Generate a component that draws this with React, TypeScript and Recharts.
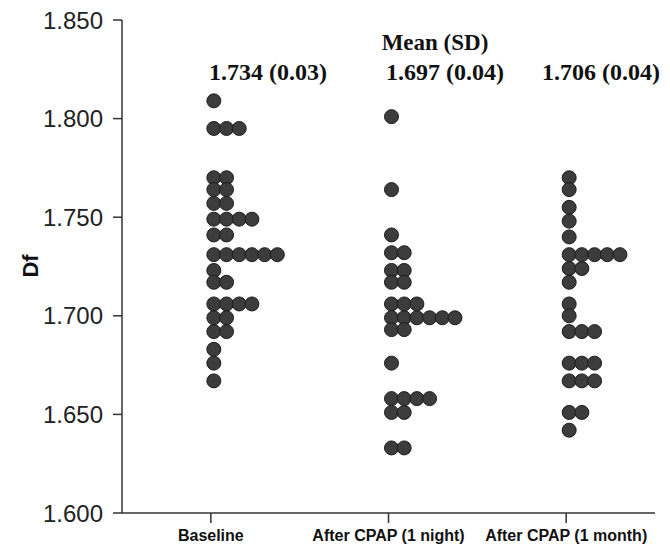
import React from 'react';
import { ScatterChart, Scatter, XAxis, YAxis, Customized } from 'recharts';

const categories = ['Baseline', 'After CPAP (1 night)', 'After CPAP (1 month)'];

const baselineLevels = [1.809, 1.795, 1.770, 1.764, 1.757, 1.749, 1.741, 1.731, 1.723, 1.717, 1.706, 1.699, 1.692, 1.683, 1.676, 1.667];
const baselineCounts = [1, 3, 2, 2, 2, 4, 2, 6, 1, 2, 4, 2, 2, 1, 1, 1];

const nightLevels = [1.801, 1.764, 1.741, 1.732, 1.723, 1.717, 1.706, 1.699, 1.693, 1.676, 1.658, 1.651, 1.633];
const nightCounts = [1, 1, 1, 2, 2, 2, 3, 6, 2, 1, 4, 2, 2];

const monthLevels = [1.770, 1.764, 1.755, 1.748, 1.740, 1.731, 1.724, 1.717, 1.706, 1.700, 1.692, 1.676, 1.667, 1.651, 1.642];
const monthCounts = [1, 1, 1, 1, 1, 5, 2, 1, 1, 1, 3, 3, 3, 2, 1];

const means = [1.734, 1.697, 1.706];
const sds = [0.03, 0.04, 0.04];

const yTicks = [1.6, 1.65, 1.7, 1.75, 1.8, 1.85];
const xTicks = [0, 1, 2];

type Pt = { x: number; y: number; col: number };

function expand(groupIndex: number, levels: number[], counts: number[]): Pt[] {
  const pts: Pt[] = [];
  levels.forEach((v, i) => {
    for (let c = 0; c < counts[i]; c++) pts.push({ x: groupIndex, y: v, col: c });
  });
  return pts;
}

const data: Pt[] = [
  ...expand(0, baselineLevels, baselineCounts),
  ...expand(1, nightLevels, nightCounts),
  ...expand(2, monthLevels, monthCounts),
];

const DOT_R = 7;
const DOT_STEP = 12.7;
const DOT_SHIFT = 3;

const Dot = (props: any) => {
  const { cx, cy, payload } = props;
  if (cx == null || cy == null) return null;
  return (
    <circle
      cx={cx + DOT_SHIFT + payload.col * DOT_STEP}
      cy={cy}
      r={DOT_R}
      fill="#3c3c3c"
      stroke="#1c1c1c"
      strokeWidth={1}
    />
  );
};

const statCenters = [268, 445, 601];

const Annotations = () => (
  <g fontFamily="'Liberation Serif', 'Times New Roman', serif" fontWeight="bold" fill="#111">
    <text x={435} y={50} textAnchor="middle" fontSize={23}>Mean (SD)</text>
    {means.map((m, i) => (
      <text key={i} x={statCenters[i]} y={80} textAnchor="middle" fontSize={24}>
        {`${m.toFixed(3)} (${sds[i].toFixed(2)})`}
      </text>
    ))}
    <text
      x={38}
      y={266}
      transform="rotate(-90, 38, 266)"
      textAnchor="middle"
      fontFamily="'Liberation Sans', Arial, sans-serif"
      fontSize={22}
      fontWeight="bold"
      fill="#111"
    >
      Df
    </text>
  </g>
);

export default function App() {
  return (
    <div style={{ position: 'absolute', left: 0, top: 0, background: '#fff' }}>
      <ScatterChart width={670} height={545} margin={{ top: 20, right: 15, bottom: 0, left: 0 }}>
        <XAxis
          type="number"
          dataKey="x"
          domain={[-0.5, 2.5]}
          ticks={xTicks}
          tickFormatter={(v: number) => categories[v] ?? ''}
          height={32}
          stroke="#333"
          strokeWidth={1.5}
          tickSize={10}
          tickMargin={7}
          tick={{ fontFamily: "'Liberation Sans', Arial, sans-serif", fontSize: 16, fontWeight: 'bold', fill: '#111' }}
          interval={0}
        />
        <YAxis
          type="number"
          dataKey="y"
          domain={[1.6, 1.85]}
          ticks={yTicks}
          tickFormatter={(v: number) => v.toFixed(3)}
          width={122}
          stroke="#333"
          strokeWidth={1.5}
          tickSize={9}
          tickMargin={10}
          tick={{ fontFamily: "'Liberation Sans', Arial, sans-serif", fontSize: 24, fill: '#222' }}
          interval={0}
        />
        <Scatter data={data} shape={Dot} isAnimationActive={false} />
        <Customized component={Annotations} />
      </ScatterChart>
    </div>
  );
}
